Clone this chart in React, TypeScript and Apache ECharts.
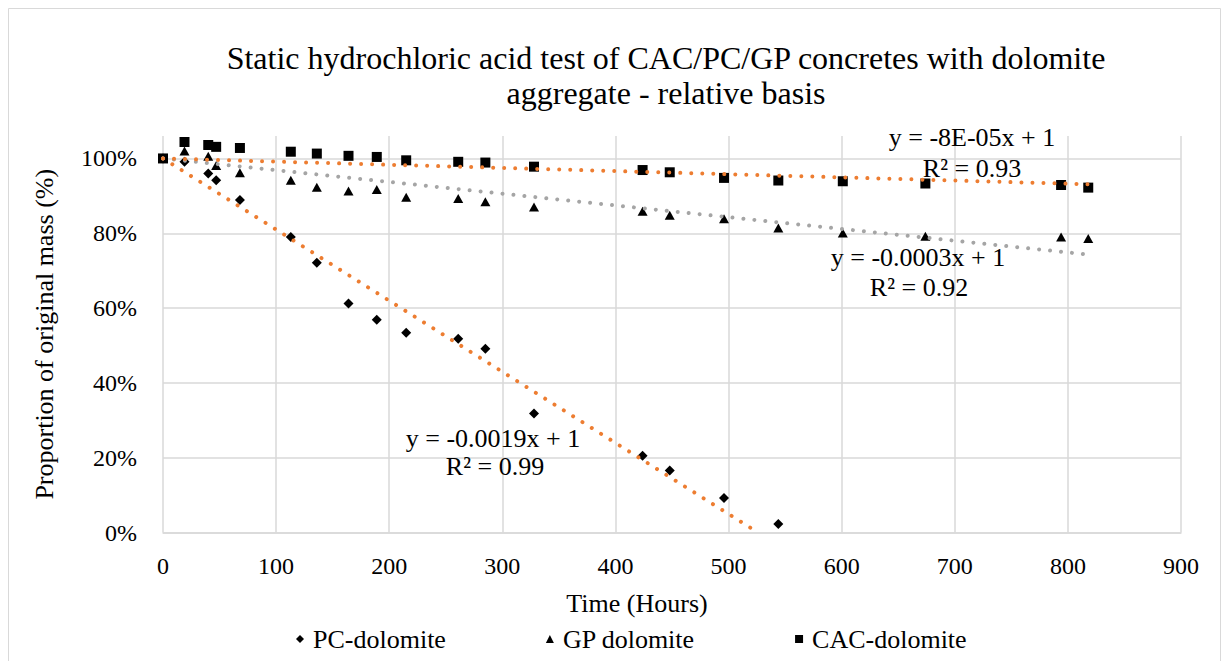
import React, { useEffect, useRef } from "react";
import * as echarts from "echarts";

const hours = [0, 19, 40, 47, 68, 113, 136, 164, 189, 215, 261, 285, 328, 424, 448, 496, 544, 601, 674, 794, 818];
const pcValues = [1.0, 0.991, 0.96, 0.942, 0.889, 0.79, 0.721, 0.612, 0.569, 0.534, 0.518, 0.491, 0.318, 0.205, 0.166, 0.092, 0.023];
const gpValues = [1.0, 1.02, 1.006, 0.981, 0.962, 0.942, 0.923, 0.913, 0.917, 0.896, 0.893, 0.884, 0.87, 0.859, 0.848, 0.839, 0.814, 0.801, 0.792, 0.79, 0.786];
const cacValues = [1.0, 1.044, 1.036, 1.031, 1.028, 1.018, 1.013, 1.007, 1.004, 0.995, 0.991, 0.989, 0.978, 0.969, 0.963, 0.948, 0.941, 0.939, 0.933, 0.929, 0.922];

const pcTrend = [[0, 1], [526, 0]];
const gpTrend = [[0, 1], [818, 0.743]];
const cacTrend = [[0, 1], [818, 0.931]];

const seriesNames = ["PC-dolomite", "GP dolomite", "CAC-dolomite"];
const titleText = "Static hydrochloric acid test of CAC/PC/GP concretes with dolomite\naggregate - relative basis";
const xTitle = "Time (Hours)";
const yTitle = "Proportion of original mass (%)";
const trendLabels = [
  ["y = -0.0019x + 1", "R² = 0.99"],
  ["y = -0.0003x + 1", "R² = 0.92"],
  ["y = -8E-05x + 1", "R² = 0.93"],
];

const FONT = "'Liberation Serif', 'Times New Roman', serif";

function pairs(xs: number[], ys: number[]) {
  return ys.map((v, i) => [xs[i], v]);
}

export default function App() {
  const ref = useRef<HTMLDivElement>(null);
  useEffect(() => {
    if (!ref.current) return;
    const chart = echarts.init(ref.current, undefined, { renderer: "svg" });
    const trendStyle = (color: string) => ({
      color,
      width: 4,
      cap: "round" as const,
      type: [0.01, 11],
      opacity: 1,
    });
    const labelText = (text: string, x: number, y: number) => ({
      type: "text",
      x,
      y,
      z: 100,
      style: {
        text,
        fontFamily: FONT,
        fontSize: 26,
        fill: "#000",
        align: "center",
        verticalAlign: "middle",
      },
    });
    const markerStyle = { color: "#000", opacity: 1 };
    chart.setOption({
      animation: false,
      backgroundColor: "#fff",
      title: {
        text: titleText,
        left: 666,
        top: 40,
        textAlign: "center",
        padding: 0,
        textStyle: {
          fontFamily: FONT,
          fontSize: 32,
          fontWeight: "normal",
          color: "#000",
          lineHeight: 35,
        },
      },
      grid: { left: 163, right: 48, top: 136, bottom: 128.5, outerBoundsMode: "none" },
      xAxis: {
        type: "value",
        min: 0,
        max: 900,
        interval: 100,
        axisLine: { show: true, lineStyle: { color: "#d9d9d9", width: 1.5 } },
        axisTick: { show: false },
        axisLabel: { fontFamily: FONT, fontSize: 24, color: "#000", margin: 21 },
        splitLine: { show: true, lineStyle: { color: "#d9d9d9", width: 1.5 } },
      },
      yAxis: {
        type: "value",
        min: 0,
        max: 1.06,
        interval: 0.2,
        name: yTitle,
        nameLocation: "middle",
        nameRotate: 90,
        nameGap: 106,
        nameTextStyle: { fontFamily: FONT, fontSize: 26, color: "#000" },
        axisLine: { show: false },
        axisTick: { show: false },
        axisLabel: {
          fontFamily: FONT,
          fontSize: 24,
          color: "#000",
          margin: 26,
          showMaxLabel: false,
          formatter: (v: number) => Math.round(v * 100) + "%",
        },
        splitLine: { show: true, showMaxLine: false, lineStyle: { color: "#d9d9d9", width: 1.5 } },
      },
      legend: {
        data: [
          { name: seriesNames[0], icon: "diamond" },
          { name: seriesNames[1], icon: "triangle" },
          { name: seriesNames[2], icon: "rect" },
        ],
        left: 296,
        top: 626,
        itemGap: 100,
        itemWidth: 8,
        itemHeight: 8,
        padding: 0,
        itemStyle: { color: "#000", opacity: 1 },
        textStyle: { fontFamily: FONT, fontSize: 26, color: "#000", padding: [0, 0, 0, 4] },
      },
      graphic: [
        {
          type: "rect",
          shape: { x: 8.5, y: 8.5, width: 1212, height: 700 },
          style: { fill: "none", stroke: "#d9d9d9", lineWidth: 1 },
          z: -1,
        },
        {
          type: "text",
          x: 637,
          y: 603,
          style: { text: xTitle, fontFamily: FONT, fontSize: 26, fill: "#000", align: "center", verticalAlign: "middle" },
        },
        labelText(trendLabels[0][0], 493, 438),
        labelText(trendLabels[0][1], 495, 466),
        labelText(trendLabels[1][0], 918, 257),
        labelText(trendLabels[1][1], 919, 287),
        labelText(trendLabels[2][0], 972, 137),
        labelText(trendLabels[2][1], 972, 168),
      ],
      series: [
        {
          name: seriesNames[0],
          type: "scatter",
          symbol: "diamond",
          symbolSize: 10,
          itemStyle: markerStyle,
          data: pairs(hours, pcValues),
          z: 3,
        },
        {
          name: seriesNames[1],
          type: "scatter",
          symbol: "triangle",
          symbolSize: [10, 9],
          itemStyle: markerStyle,
          data: pairs(hours, gpValues),
          z: 3,
        },
        {
          name: seriesNames[2],
          type: "scatter",
          symbol: "rect",
          symbolSize: 10,
          itemStyle: markerStyle,
          data: pairs(hours, cacValues),
          z: 3,
        },
        {
          name: "PC trend",
          type: "line",
          showSymbol: false,
          symbol: "none",
          lineStyle: trendStyle("#ED7D31"),
          data: pcTrend,
          z: 5,
          silent: true,
        },
        {
          name: "GP trend",
          type: "line",
          showSymbol: false,
          symbol: "none",
          lineStyle: trendStyle("#A5A5A5"),
          data: gpTrend,
          z: 5,
          silent: true,
        },
        {
          name: "CAC trend",
          type: "line",
          showSymbol: false,
          symbol: "none",
          lineStyle: trendStyle("#ED7D31"),
          data: cacTrend,
          z: 5,
          silent: true,
        },
      ],
    });
    return () => chart.dispose();
  }, []);
  return (
    <div
      ref={ref}
      style={{ position: "fixed", left: 0, top: 0, width: 1229, height: 661 }}
    />
  );
}
